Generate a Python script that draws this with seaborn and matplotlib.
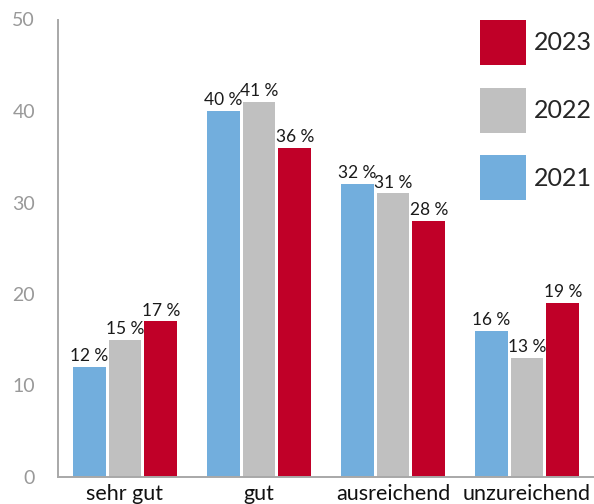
import matplotlib
matplotlib.use("Agg")
import matplotlib.pyplot as plt
from matplotlib.patches import Patch
from matplotlib.ticker import FixedLocator
import pandas as pd
import seaborn as sns

categories = ["sehr gut", "gut", "ausreichend", "unzureichend"]
years = ["2021", "2022", "2023"]
values_2021 = [12, 40, 32, 16]
values_2022 = [15, 41, 31, 13]
values_2023 = [17, 36, 28, 19]
year_colors = {"2021": "#72aedd", "2022": "#c0c0c0", "2023": "#c00028"}
y_ticks = [0, 10, 20, 30, 40, 50]

df = pd.DataFrame({
    "Kategorie": categories * 3,
    "Jahr": [y for y in years for _ in categories],
    "Anteil": values_2021 + values_2022 + values_2023,
})

sns.set_style("white")
plt.rcParams["font.family"] = ["Lato", "DejaVu Sans"]

fig = plt.figure(figsize=(5.94, 5.04), dpi=100)
ax = fig.add_axes([58 / 594, 27 / 504, 1 - 58 / 594, (477 - 19.5) / 504])

sns.barplot(data=df, x="Kategorie", y="Anteil", hue="Jahr", order=categories,
            hue_order=years, palette=year_colors, width=0.8, gap=0.085,
            linewidth=0, saturation=1, legend=False, ax=ax)

for cont in ax.containers:
    ax.bar_label(cont, labels=[f"{v:.0f}\u202f%" for v in cont.datavalues],
                 padding=2, fontsize=12.5, color="#1a1a1a")

ax.set_xlim(-0.5, 3.5)
ax.set_ylim(0, 50)
ax.set_yticks(y_ticks)
ax.set_xlabel("")
ax.set_ylabel("")

grey = "#a8a8a8"
for side in ["top", "right"]:
    ax.spines[side].set_visible(False)
for side in ["left", "bottom"]:
    ax.spines[side].set_color(grey)
    ax.spines[side].set_linewidth(1.4)

ax.tick_params(axis="y", direction="out", length=9.5, width=1, color=grey,
               pad=7, labelsize=14, labelcolor="#999999")
ax.tick_params(axis="x", which="major", length=0, pad=5, labelsize=15.5,
               labelcolor="#111111")
ax.xaxis.set_minor_locator(FixedLocator([0.5, 1.5, 2.5]))
ax.tick_params(axis="x", which="minor", direction="in", length=8, width=1,
               color=grey)

handles = [Patch(facecolor=year_colors[y], edgecolor="none", label=y)
           for y in reversed(years)]
fig.legend(handles=handles, loc="upper left",
           bbox_to_anchor=(480 / 594, 1 - 20 / 504), frameon=False,
           fontsize=18, handlelength=1.85, handleheight=2.4,
           handletextpad=0.3, labelspacing=0.9, borderpad=0,
           borderaxespad=0)

fig.savefig("out.png", dpi=100)
